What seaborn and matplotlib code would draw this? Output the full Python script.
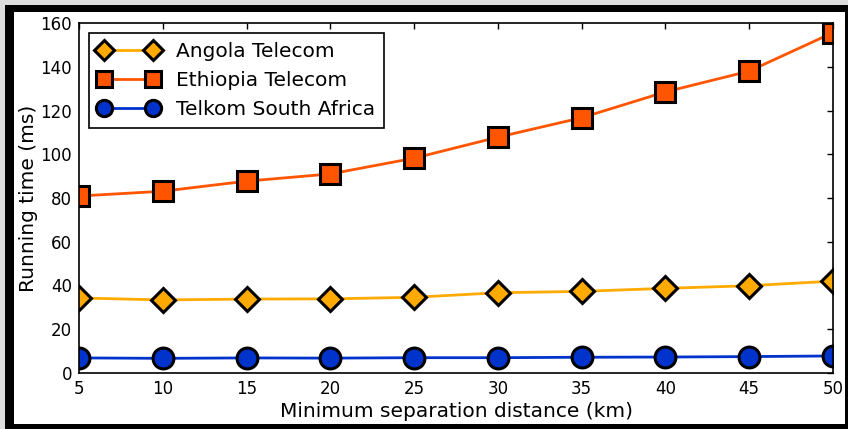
import matplotlib
matplotlib.use("Agg")
import matplotlib.pyplot as plt
from matplotlib.patches import Rectangle
import seaborn as sns
import pandas as pd

# Running time per minimum separation distance, for each operator network
distance_km = [5, 10, 15, 20, 25, 30, 35, 40, 45, 50]
angola_ms = [34.3, 33.4, 33.8, 33.9, 34.6, 36.7, 37.3, 38.7, 39.9, 42.0]
ethiopia_ms = [80.9, 83.1, 87.7, 91.0, 98.2, 107.8, 116.7, 128.5, 138.0, 155.6]
telkom_ms = [6.9, 6.7, 6.9, 6.8, 7.0, 7.0, 7.2, 7.3, 7.5, 7.8]

series = [
    ("Angola Telecom", angola_ms, "D", 12.5, "#ffaa00"),
    ("Ethiopia Telecom", ethiopia_ms, "s", 15, "#ff5500"),
    ("Telkom South Africa", telkom_ms, "o", 15, "#0033cc"),
]

sns.set_style("white")
plt.rcParams["font.family"] = ["DejaVu Sans"]
plt.rcParams["text.color"] = "black"
plt.rcParams["axes.labelcolor"] = "black"

fig = plt.figure(figsize=(8.48, 4.29), dpi=100, facecolor="#dcdcdc")
W, H = 848.0, 429.0


def fig_box(x0, y0, x1, y1):
    """Box given in pixels measured from the top-left corner, as figure fractions."""
    return (x0 / W, 1 - y1 / H), (x1 - x0) / W, (y1 - y0) / H


# black frame with white interior around the plot
for box, col, z in [(fig_box(5, 5, 848, 429), "black", -20),
                    (fig_box(14, 12, 845, 424), "white", -19)]:
    fig.add_artist(Rectangle(box[0], box[1], box[2], transform=fig.transFigure,
                             facecolor=col, edgecolor="none", zorder=z))

AX_L, AX_T, AX_R, AX_B = 79, 23, 833, 373
ax = fig.add_axes([AX_L / W, 1 - AX_B / H, (AX_R - AX_L) / W, (AX_B - AX_T) / H])

for name, values, marker, msize, color in series:
    df = pd.DataFrame({"distance": distance_km, "time": values})
    sns.lineplot(data=df, x="distance", y="time", ax=ax, color=color,
                 marker=marker, markersize=msize, markeredgecolor="black",
                 markeredgewidth=2.2, linewidth=2, label=name)

ax.set_xlim(5, 50)
ax.set_ylim(0, 160)
ax.set_xticks(range(5, 51, 5))
ax.set_yticks(range(0, 161, 20))
ax.tick_params(direction="in", length=4, width=1, top=True, right=True,
               labelsize=12, colors="black", pad=5)
for side in ax.spines.values():
    side.set_visible(True)
    side.set_color("black")
    side.set_linewidth(1.2)
    side.set_zorder(5)

ax.set_xlabel("Minimum separation distance (km)", fontsize=14.5, labelpad=3)
ax.set_ylabel("Running time (ms)", fontsize=14.5, labelpad=2)

leg = ax.legend(loc="upper left", numpoints=2, fontsize=14.5, fancybox=False,
                framealpha=1, edgecolor="black", handlelength=3.0,
                handletextpad=0.85, labelspacing=0.5, borderaxespad=0.5,
                borderpad=0.45, markerscale=0.78)
leg.get_frame().set_linewidth(1.2)
leg.set_zorder(6)

fig.savefig("out.png", dpi=100, facecolor=fig.get_facecolor())
